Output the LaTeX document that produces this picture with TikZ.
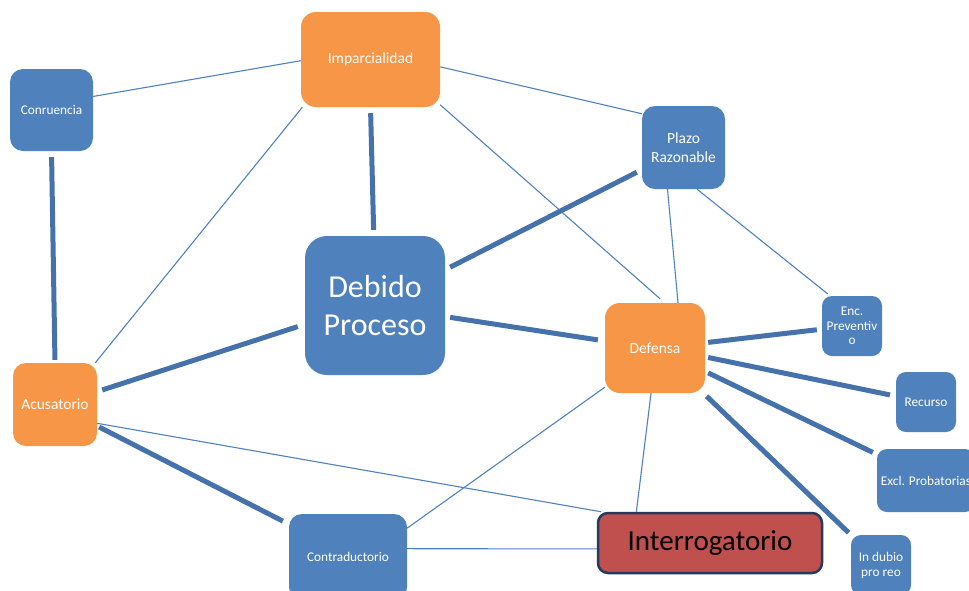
\documentclass[tikz,border=0pt]{standalone}
\usepackage{fontspec}
\setmainfont{Carlito}
\pgfdeclarelayer{bg}
\pgfsetlayers{bg,main}
\definecolor{boxblue}{HTML}{4F81BD}
\definecolor{boxorange}{HTML}{F79646}
\definecolor{boxred}{HTML}{C0504D}
\definecolor{boxborder}{HTML}{243A5E}
\definecolor{thinline}{HTML}{4F81BD}
\definecolor{thickline}{HTML}{4672AC}
\tikzset{
  bbox/.style={draw=none, fill=boxblue, text=white, inner sep=0pt, align=center},
  obox/.style={bbox, fill=boxorange},
  smalltxt/.style={font=\fontsize{13.3}{14.5}\selectfont},
  midtxt/.style={font=\fontsize{15.5}{19}\selectfont},
  thinlink/.style={draw=thinline, line width=1.1pt},
  thicklink/.style={draw=thickline, line width=5pt}
}
\begin{document}
\begin{tikzpicture}[x=1pt,y=-1pt]
\useasboundingbox (0,0) rectangle (969,590);
% nodes
\node[obox, midtxt, minimum width=139pt, minimum height=95pt, rounded corners=15pt] (imp) at (370.5,59.5) {Imparcialidad};
\node[bbox, smalltxt, minimum width=83pt, minimum height=82pt, rounded corners=13pt] (con) at (51.5,110) {Conruencia};
\node[bbox, midtxt, minimum width=83pt, minimum height=83pt, rounded corners=13pt] (pla) at (683.5,147.5) {Plazo\\Razonable};
\node[bbox, font=\fontsize{32}{38}\selectfont, minimum width=140pt, minimum height=139pt, rounded corners=22pt] (deb) at (375,305.5) {Debido\\Proceso};
\node[obox, midtxt, minimum width=100pt, minimum height=90pt, rounded corners=15pt] (def) at (655,348) {Defensa};
\node[bbox, font=\fontsize{13.3}{14.3}\selectfont, minimum width=60pt, minimum height=60pt, rounded corners=10pt] (enc) at (852,326) {Enc.\\Preventiv\\o};
\node[obox, midtxt, minimum width=84pt, minimum height=83pt, rounded corners=13pt] (acu) at (55,404.5) {Acusatorio};
\node[bbox, smalltxt, minimum width=60pt, minimum height=60pt, rounded corners=10pt] (rec) at (926,402) {Recurso};
\node[bbox, smalltxt, minimum width=98pt, minimum height=63pt, rounded corners=10pt] (exc) at (926,480.5) {Excl. Probatorias};
\node[draw=boxborder, line width=2.5pt, fill=boxred, text=black, inner sep=0pt, font=\fontsize{29}{34}\selectfont, minimum width=224pt, minimum height=60pt, rounded corners=10pt] (int) at (710,543) {Interrogatorio};
\node[bbox, font=\fontsize{13.3}{15}\selectfont, minimum width=60pt, minimum height=60pt, rounded corners=10pt] (ind) at (881,565) {In dubio\\pro reo};
\node[bbox, smalltxt, minimum width=118pt, minimum height=86pt, rounded corners=13pt] (cnt) at (348,557) {Contraductorio};
% connectors
\begin{pgfonlayer}{bg}
\draw[thinlink] (con.18.6) -- (imp.181.2);
\draw[thinlink] (imp.-6.2) -- (pla.141.1);
\draw[thinlink, shorten >=6pt] (imp.-33.2) -- (def.78.9);
\draw[thinlink] (imp.-145) -- (acu.46.1);
\draw[thinlink] (pla.-111.7) -- (def.63.4);
\draw[thinlink, shorten >=3pt] (pla.-72) -- (enc.126);
\draw[thinlink] (acu.-24.4) -- (int.164.9);
\draw[thinlink] (def.-142) -- (cnt.26.6);
\draw[thinlink] (def.-95.1) -- (int.157.4);
\draw[thinlink] (cnt.8.5) -- (int.183);
\draw[thicklink, shorten <=6pt, shorten >=3pt] (con.south) -- (acu.north);
\draw[thicklink, shorten <=6pt, shorten >=6pt] (imp.south) -- (deb.91);
\draw[thicklink, shorten <=5.6pt, shorten >=5.6pt] (deb.27.2) -- (pla.-152.1);
\draw[thicklink, shorten <=5pt, shorten >=7pt] (deb.-9.6) -- (def.172);
\draw[thicklink, shorten <=7.4pt, shorten >=5.3pt] (deb.195.4) -- (acu.17.1);
\draw[thicklink, shorten <=2.2pt, shorten >=6.7pt] (acu.-27.1) -- (cnt.151.5);
\draw[thicklink, shorten <=3pt, shorten >=5pt] (def.6.5) -- (enc.186.5);
\draw[thicklink, shorten <=3pt, shorten >=6pt] (def.-10.6) -- (rec.169);
\draw[thicklink, shorten <=3.3pt, shorten >=4.4pt] (def.-25.2) -- (exc.152.5);
\draw[thicklink, shorten <=4.3pt, shorten >=3pt] (def.-43.2) -- (ind.135);
\end{pgfonlayer}
\end{tikzpicture}
\end{document}
